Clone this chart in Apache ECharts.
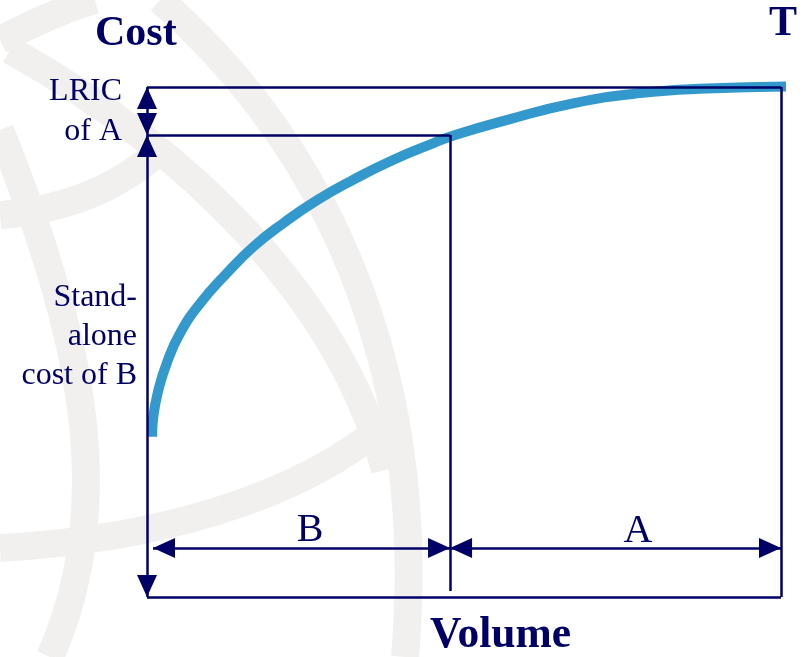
<!DOCTYPE html>
<html><head><meta charset="utf-8">
<script src="https://cdn.jsdelivr.net/npm/echarts@6.0.0/dist/echarts.min.js"></script>
<style>html,body{margin:0;padding:0;background:#fff}#c{width:807px;height:657px}</style>
</head><body><div id="c"></div>
<script>
// ---- data ----
const volume = [0.8, 1.0, 1.8, 3.1, 5.2, 8.4, 12.6, 16.8, 21.5, 26.8, 32.5, 38.8, 45.2, 48.6, 56.7, 67.2, 77.8, 88.3, 100.9];
const cost   = [31.4, 35.4, 40.6, 45.8, 51.7, 57.6, 63.5, 68.7, 73.3, 77.8, 81.8, 85.7, 89.0, 90.6, 93.5, 96.8, 98.8, 99.7, 100.1];
const volumeB = 47.8;          // volume of service B (split)
const volumeTotal = 100;       // total volume
const costB = 90.6;            // stand-alone cost of B
const costTotal = 100;         // total cost T
const dimY = 9.6;              // level of the B / A dimension arrows
const dimStartB = 0.95;        // start of the B arrow
const splitBottom = 1.2;       // lower end of the split line
const axisMin = 0, axisMax = 100;

const navy = '#000066';

function seg(x1, y1, x2, y2) { return [{ coord: [x1, y1] }, { coord: [x2, y2] }]; }

const wm = '#f1f0ee';
function band(x1, y1, cpx1, cpy1, cpx2, cpy2, x2, y2, w) {
  return { type: 'bezierCurve', silent: true, z: -10,
    shape: { x1, y1, cpx1, cpy1, cpx2, cpy2, x2, y2 },
    style: { stroke: wm, lineWidth: w || 28, fill: null, lineCap: 'butt' } };
}
function txt(text, x, y, size, bold, align, lh) {
  return { type: 'text', x, y, z: 10, silent: true,
    style: { text, fill: navy, font: (bold ? 'bold ' : '') + size + 'px "Liberation Serif"',
      align: align, verticalAlign: 'middle', lineHeight: lh || size } };
}

const chart = echarts.init(document.getElementById('c'), null, { renderer: 'canvas' });
chart.setOption({
  backgroundColor: '#ffffff',
  animation: false,
  grid: { left: 147, right: 26, top: 87, bottom: 60 },
  xAxis: { type: 'value', min: axisMin, max: axisMax, show: false },
  yAxis: { type: 'value', min: axisMin, max: axisMax, show: false },
  graphic: [
    // watermark globe
    band(10, 50, 190, 150, 340, 300, 385, 470),
    band(160, 0, 320, 140, 430, 360, 405, 657),
    band(0, 548, 150, 540, 300, 500, 390, 420),
    band(0, 130, 80, 330, 120, 500, 50, 657),
    band(0, 215, 60, 210, 120, 190, 165, 145),
    band(0, 40, 30, 25, 60, 10, 95, 0),
    // texts
    txt('Cost', 95, 34, 42, true, 'left'),
    txt('T', 797, 24, 42, true, 'right'),
    txt('Volume', 430, 636, 43.5, true, 'left'),
    txt('LRIC\nof A', 122, 112, 32, false, 'right', 40),
    txt('Stand-\nalone\ncost of B', 137, 337, 32, false, 'right', 39),
    txt('B', 310, 530, 40, false, 'center'),
    txt('A', 638, 531, 40, false, 'center')
  ],
  series: [
    {
      name: 'Total cost', type: 'line', z: 2, clip: false,
      data: volume.map((v, i) => [v, cost[i]]),
      smooth: 0.5, showSymbol: false, silent: true,
      lineStyle: { width: 10, color: '#3399cc', cap: 'butt' }
    },
    {
      name: 'frame', type: 'line', z: 5, data: [], silent: true,
      markLine: {
        silent: true, symbol: ['none', 'none'], label: { show: false },
        lineStyle: { color: navy, width: 2.5, type: 'solid' },
        emphasis: { disabled: true },
        data: [
          seg(axisMin, costTotal, volumeTotal, costTotal),
          seg(volumeTotal, costTotal, volumeTotal, axisMin),
          seg(axisMin, axisMin, volumeTotal, axisMin),
          seg(axisMin, costB, volumeB, costB),
          seg(volumeB, costB, volumeB, splitBottom)
        ]
      }
    },
    {
      name: 'dims', type: 'line', z: 6, data: [], silent: true,
      markLine: {
        silent: true, symbol: ['triangle', 'triangle'], symbolSize: [20, 22],
        symbolOffset: [[0, 11], [0, 11]],
        label: { show: false },
        lineStyle: { color: navy, width: 2.5, type: 'solid' },
        itemStyle: { color: navy },
        emphasis: { disabled: true },
        data: [
          seg(axisMin, costTotal, axisMin, costB),
          seg(axisMin, costB, axisMin, axisMin),
          seg(dimStartB, dimY, volumeB, dimY),
          seg(volumeB, dimY, volumeTotal, dimY)
        ]
      }
    }
  ]
});
</script>
</body></html>
